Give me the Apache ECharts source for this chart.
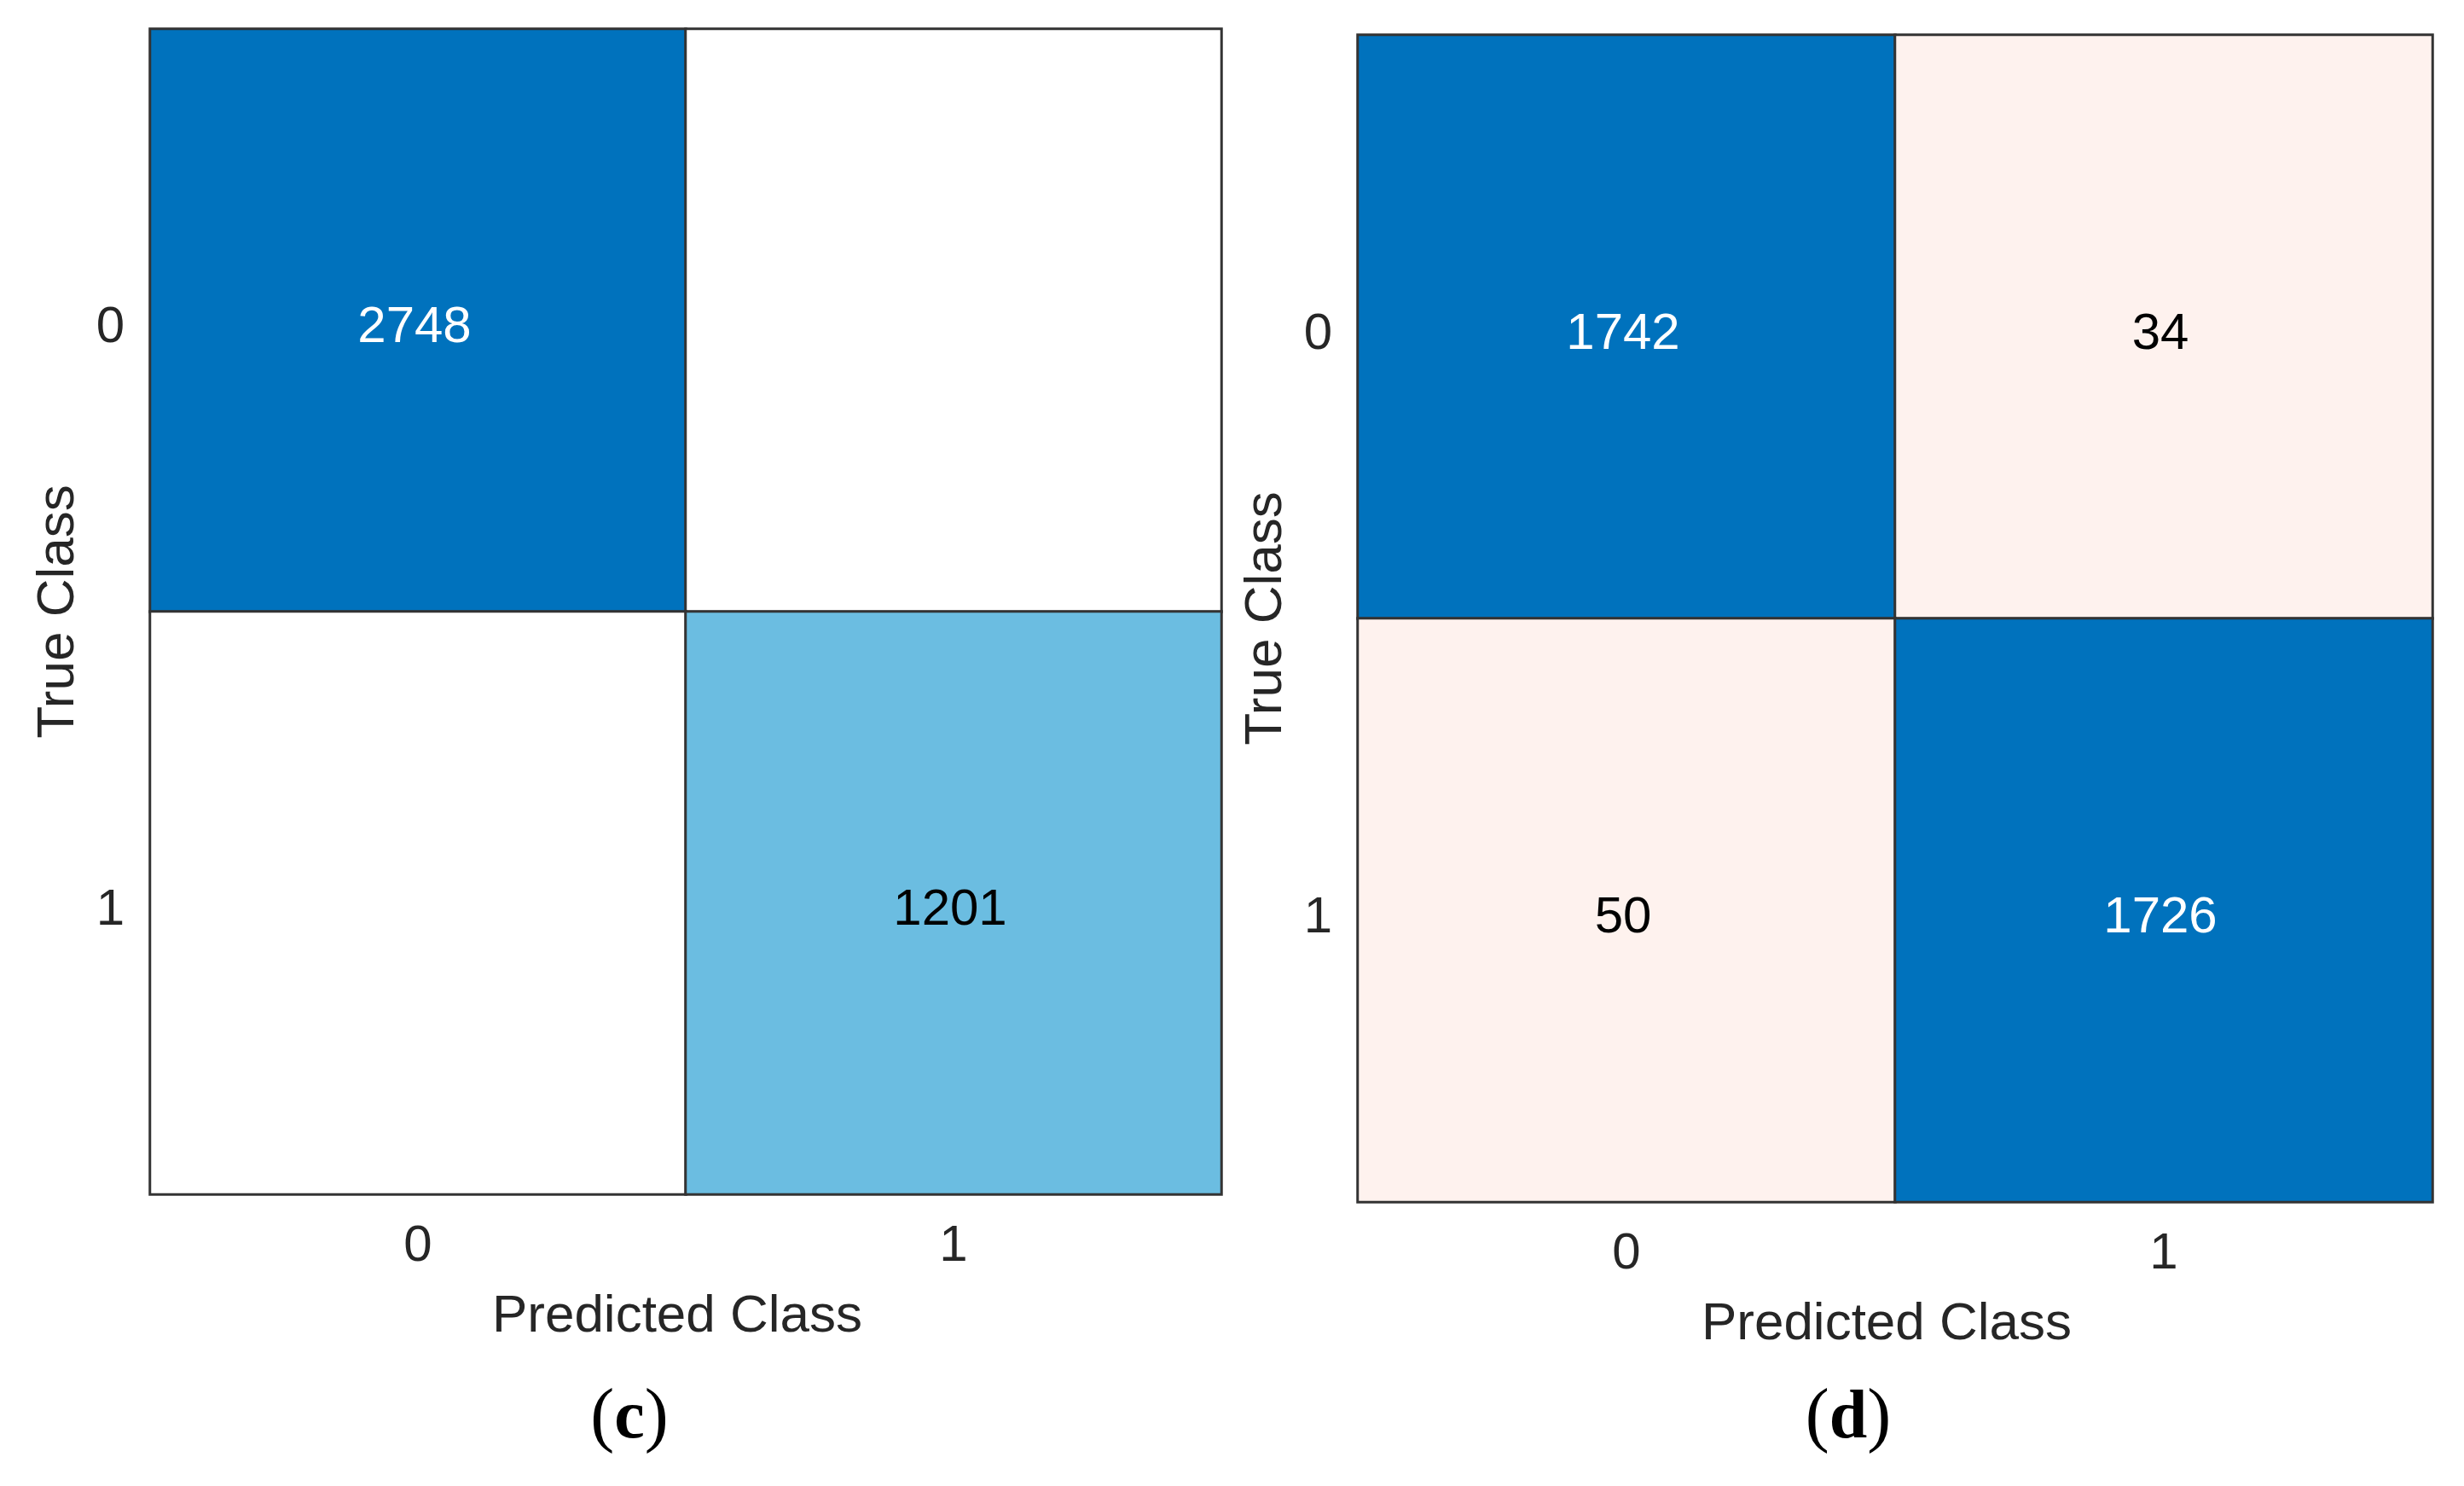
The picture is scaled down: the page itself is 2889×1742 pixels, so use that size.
<!DOCTYPE html>
<html>
<head>
<meta charset="utf-8">
<script src="https://cdn.jsdelivr.net/npm/echarts@6/dist/echarts.min.js"></script>
<style>
html,body{margin:0;padding:0;background:#fff;}
#chart{width:2889px;height:1742px;}
</style>
</head>
<body>
<div id="chart"></div>
<script>
// ---- data ----
const predictedClasses = ['0', '1'];
const trueClasses = ['0', '1'];
// [predictedIndex, trueIndex, count]
const matrixC = [[0, 0, 2748], [1, 0, 0], [0, 1, 0], [1, 1, 1201]];
const matrixD = [[0, 0, 1742], [1, 0, 34], [0, 1, 50], [1, 1, 1726]];
const captions = ['c', 'd'];

const FONT = '"Liberation Sans", Arial, sans-serif';
const TXT = '#262626';

const chart = echarts.init(document.getElementById('chart'), null, {renderer: 'canvas'});

const grids = [
  {left: 176, top: 34, width: 1256, height: 1366},
  {left: 1592, top: 41, width: 1260, height: 1368}
];

function xAxis(i) {
  return {
    type: 'category', gridIndex: i, data: predictedClasses,
    name: 'Predicted Class', nameLocation: 'middle', nameGap: 113,
    nameTextStyle: {fontFamily: FONT, fontSize: 62, color: TXT, padding: [0, 20, 0, 0]},
    axisLine: {show: false}, axisTick: {show: false}, splitLine: {show: false},
    axisLabel: {fontFamily: FONT, fontSize: 60, color: TXT, margin: 31}
  };
}
function yAxis(i) {
  return {
    type: 'category', gridIndex: i, data: trueClasses, inverse: true,
    name: 'True Class', nameLocation: 'middle', nameGap: 76, nameRotate: 90,
    nameTextStyle: {fontFamily: FONT, fontSize: 62, color: TXT},
    axisLine: {show: false}, axisTick: {show: false}, splitLine: {show: false},
    axisLabel: {fontFamily: FONT, fontSize: 60, color: TXT, margin: 30, verticalAlign: 'top', lineHeight: 18}
  };
}

function labelFmt(threshold) {
  return function (p) {
    const v = p.value[2];
    if (v === 0) return '';
    return v >= threshold ? '{w|' + v + '}' : '{k|' + v + '}';
  };
}
const labelRich = {
  w: {color: '#ffffff', fontFamily: FONT, fontSize: 60},
  k: {color: '#000000', fontFamily: FONT, fontSize: 60}
};

const option = {
  backgroundColor: '#ffffff',
  animation: false,
  grid: grids,
  xAxis: [xAxis(0), xAxis(1)],
  yAxis: [yAxis(0), yAxis(1)],
  visualMap: [
    {
      type: 'piecewise', show: false, seriesIndex: 0, dimension: 2,
      pieces: [
        {min: 0, max: 0, color: '#ffffff'},
        {min: 1, max: 2000, color: '#6BBDE1'},
        {min: 2000, color: '#0072BD'}
      ]
    },
    {
      type: 'piecewise', show: false, seriesIndex: 1, dimension: 2,
      pieces: [
        {min: 0, max: 500, color: '#FEF2EE'},
        {min: 500, color: '#0072BD'}
      ]
    }
  ],
  series: [
    {
      type: 'heatmap', xAxisIndex: 0, yAxisIndex: 0, data: matrixC,
      itemStyle: {borderColor: '#333333', borderWidth: 3},
      label: {show: true, formatter: labelFmt(2000), rich: labelRich, offset: [-4, 9]}
    },
    {
      type: 'heatmap', xAxisIndex: 1, yAxisIndex: 1, data: matrixD,
      itemStyle: {borderColor: '#333333', borderWidth: 3},
      label: {show: true, formatter: labelFmt(500), rich: labelRich, offset: [-4, 9]}
    }
  ],
  graphic: [
    {
      type: 'text', x: 738, y: 1664,
      style: {
        text: '{p|(}{b|' + captions[0] + '}{p|)}',
        align: 'center', verticalAlign: 'middle',
        rich: {
          p: {fontFamily: '"Liberation Serif", "Times New Roman", serif', fontSize: 84, fill: '#000'},
          b: {fontFamily: '"Liberation Serif", "Times New Roman", serif', fontSize: 80, fontWeight: 'bold', fill: '#000'}
        }
      }
    },
    {
      type: 'text', x: 2167, y: 1664,
      style: {
        text: '{p|(}{b|' + captions[1] + '}{p|)}',
        align: 'center', verticalAlign: 'middle',
        rich: {
          p: {fontFamily: '"Liberation Serif", "Times New Roman", serif', fontSize: 84, fill: '#000'},
          b: {fontFamily: '"Liberation Serif", "Times New Roman", serif', fontSize: 80, fontWeight: 'bold', fill: '#000'}
        }
      }
    }
  ]
};
chart.setOption(option);
</script>
</body>
</html>
